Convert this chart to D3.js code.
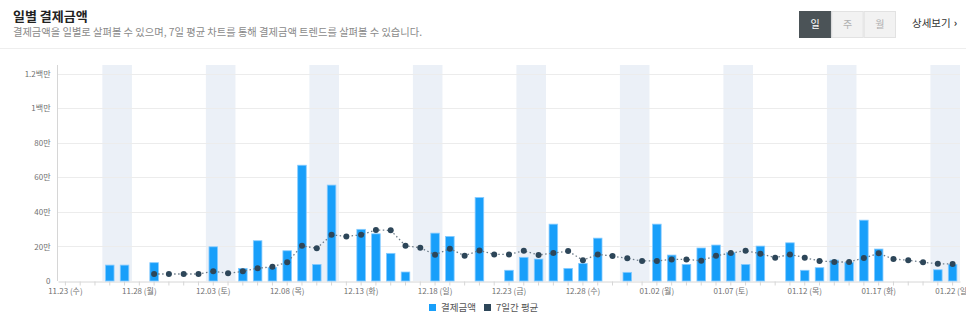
<!DOCTYPE html>
<html>
<head>
<meta charset="utf-8">
<script src="https://cdn.jsdelivr.net/npm/d3@7"></script>
<style>
  html, body { margin: 0; padding: 0; background: #fff; }
  svg { display: block; font-family: "Noto Sans CJK KR", "Noto Sans", sans-serif; }
</style>
</head>
<body>
<svg id="chart" width="966" height="332"></svg>
<script>
// Daily categories (date + weekday)
const categories = [
  "11.23 (수)","11.24 (목)","11.25 (금)","11.26 (토)","11.27 (일)","11.28 (월)","11.29 (화)",
  "11.30 (수)","12.01 (목)","12.02 (금)","12.03 (토)","12.04 (일)","12.05 (월)","12.06 (화)",
  "12.07 (수)","12.08 (목)","12.09 (금)","12.10 (토)","12.11 (일)","12.12 (월)","12.13 (화)",
  "12.14 (수)","12.15 (목)","12.16 (금)","12.17 (토)","12.18 (일)","12.19 (월)","12.20 (화)",
  "12.21 (수)","12.22 (목)","12.23 (금)","12.24 (토)","12.25 (일)","12.26 (월)","12.27 (화)",
  "12.28 (수)","12.29 (목)","12.30 (금)","12.31 (토)","01.01 (일)","01.02 (월)","01.03 (화)",
  "01.04 (수)","01.05 (목)","01.06 (금)","01.07 (토)","01.08 (일)","01.09 (월)","01.10 (화)",
  "01.11 (수)","01.12 (목)","01.13 (금)","01.14 (토)","01.15 (일)","01.16 (월)","01.17 (화)",
  "01.18 (수)","01.19 (목)","01.20 (금)","01.21 (토)","01.22 (일)"
];

// Daily payment amount (원)
const paymentAmounts = [
  0, 0, 0, 92000, 92000, 0, 106000,
  0, 0, 0, 198000, 0, 73000, 233000,
  79000, 175000, 670000, 96000, 555000, 0, 299000,
  273000, 160000, 52000, 0, 277000, 258000, 0,
  483000, 0, 62000, 137000, 127000, 329000, 73000,
  102000, 248000, 0, 50000, 0, 329000, 150000,
  96000, 191000, 208000, 164000, 96000, 202000, 0,
  221000, 62000, 77000, 121000, 108000, 352000, 185000,
  0, 0, 0, 65000, 96000
];

// 7-day average (원); no value before a full week is available
const weeklyAverage = [
  null, null, null, null, null, null, 40400,
  40400, 40400, 40400, 56000, 44500, 56000, 73400,
  82600, 108000, 204000, 189000, 267000, 258000, 267000,
  295000, 293000, 204000, 192000, 152000, 187000, 146000,
  177000, 154000, 154000, 175000, 150000, 162000, 173000,
  120000, 154000, 144000, 131000, 116000, 116000, 125000,
  125000, 117000, 146000, 162000, 175000, 158000, 135000,
  154000, 135000, 116000, 110000, 110000, 133000, 160000,
  127000, 120000, 108000, 100000, 98000
];

const yTickValues = [0, 200000, 400000, 600000, 800000, 1000000, 1200000];
const yTickLabels = ["0", "20만", "40만", "60만", "80만", "1백만", "1.2백만"];
const seriesNames = ["결제금액", "7일간 평균"];
const periodTabs = ["일", "주", "월"];
const titleText = "일별 결제금액";
const subtitleText = "결제금액을 일별로 살펴볼 수 있으며, 7일 평균 차트를 통해 결제금액 트렌드를 살펴볼 수 있습니다.";
const detailLinkText = "상세보기";

const BAR_COLOR = "#189ffa";
const BAR_EDGE = "#86cbff";
const AVG_LINE = "#6d7c8a";
const AVG_DOT = "#2d4659";
const BAND_COLOR = "#ebf0f7";

const svg = d3.select("#chart");

// ---------- header ----------
svg.append("text")
  .attr("x", 13).attr("y", 21)
  .attr("font-size", 13).attr("font-weight", 700).attr("fill", "#222")
  .text(titleText);

svg.append("text")
  .attr("x", 13).attr("y", 35.5)
  .attr("font-size", 10.25).attr("fill", "#8a8a8a")
  .text(subtitleText);

svg.append("line")
  .attr("x1", 0).attr("x2", 966).attr("y1", 48.5).attr("y2", 48.5)
  .attr("stroke", "#eeeeee");

// period toggle
const tabX = d3.scaleBand().domain(periodTabs).range([799, 896]);
const tabs = svg.append("g").selectAll("g").data(periodTabs).join("g");
tabs.append("rect")
  .attr("x", d => tabX(d) + 0.5).attr("y", 11.5)
  .attr("width", tabX.bandwidth() - 1).attr("height", 26)
  .attr("fill", (d, i) => i === 0 ? "#4b5357" : "#f2f2f2")
  .attr("stroke", (d, i) => i === 0 ? "#4b5357" : "#e2e2e2");
tabs.append("text")
  .attr("x", d => tabX(d) + tabX.bandwidth() / 2).attr("y", 28)
  .attr("text-anchor", "middle").attr("font-size", 10)
  .attr("fill", (d, i) => i === 0 ? "#ffffff" : "#b0b0b0")
  .text(d => d);

const detail = svg.append("text")
  .attr("x", 912).attr("y", 27)
  .attr("font-size", 10.5).attr("fill", "#333");
detail.append("tspan").text(detailLinkText);
detail.append("tspan").attr("dx", 3).attr("font-weight", 700).text("›");

// ---------- chart ----------
const plot = { left: 58, right: 960, top: 65, bottom: 281 };

const x = d3.scaleBand()
  .domain(categories)
  .range([plot.left, plot.right])
  .padding(0);

const y = d3.scaleLinear()
  .domain([0, 1250000])
  .range([plot.bottom, plot.top]);

// weekend shading (Sat + Sun)
const weekendStarts = categories.filter(c => c.includes("(토)"));
svg.append("g").selectAll("rect")
  .data(weekendStarts)
  .join("rect")
  .attr("x", d => x(d))
  .attr("y", plot.top)
  .attr("width", d => {
    const i = categories.indexOf(d);
    const end = i + 1 < categories.length ? x(categories[i + 1]) + x.bandwidth() : x(d) + x.bandwidth();
    return end - x(d);
  })
  .attr("height", plot.bottom - plot.top)
  .attr("fill", BAND_COLOR);

// horizontal grid
svg.append("g").selectAll("line")
  .data(yTickValues.slice(1))
  .join("line")
  .attr("x1", plot.left - 1).attr("x2", plot.right)
  .attr("y1", d => Math.round(y(d)) + 0.5).attr("y2", d => Math.round(y(d)) + 0.5)
  .attr("stroke", "#ececec");

// y axis
const yAxis = svg.append("g")
  .attr("transform", `translate(${plot.left - 0.5},0)`)
  .call(d3.axisLeft(y).tickValues(yTickValues)
    .tickFormat((d, i) => yTickLabels[i]).tickSize(0).tickPadding(7));
yAxis.select(".domain").attr("stroke", "#d6d6d6").attr("d", `M0,${plot.top}V${plot.bottom}`);
yAxis.selectAll("text")
  .attr("font-size", 8).attr("fill", "#707070")
  .attr("font-family", "\"Noto Sans CJK KR\", sans-serif");

// x axis: tick at every day, label every 5 days
const xAxis = svg.append("g")
  .attr("transform", `translate(0,${plot.bottom + 0.5})`)
  .call(d3.axisBottom(x).tickSizeInner(4).tickSizeOuter(0).tickPadding(3)
    .tickFormat((d, i) => i % 5 === 0 ? d : ""));
xAxis.select(".domain").attr("stroke", "#d6d6d6");
xAxis.selectAll(".tick line").attr("stroke", "#d6d6d6");
xAxis.selectAll("text")
  .attr("font-size", 8).attr("fill", "#707070")
  .attr("font-family", "\"Noto Sans CJK KR\", sans-serif");

// bars
const barW = x.bandwidth() * 0.58;
svg.append("g").selectAll("rect")
  .data(categories.map((c, i) => ({ c, v: paymentAmounts[i] })).filter(d => d.v > 0))
  .join("rect")
  .attr("x", d => x(d.c) + (x.bandwidth() - barW) / 2)
  .attr("y", d => y(d.v))
  .attr("width", barW)
  .attr("height", d => y(0) - y(d.v))
  .attr("fill", BAR_COLOR)
  .attr("stroke", BAR_EDGE)
  .attr("stroke-width", 0.8);

// 7-day average line
const avgPoints = categories.map((c, i) => ({ c, v: weeklyAverage[i] })).filter(d => d.v !== null);
const line = d3.line()
  .x(d => x(d.c) + x.bandwidth() / 2)
  .y(d => y(d.v));
svg.append("path")
  .datum(avgPoints)
  .attr("d", line)
  .attr("fill", "none")
  .attr("stroke", AVG_LINE)
  .attr("stroke-width", 1.3)
  .attr("stroke-dasharray", "1.5,2.5");
svg.append("g").selectAll("circle")
  .data(avgPoints)
  .join("circle")
  .attr("cx", d => x(d.c) + x.bandwidth() / 2)
  .attr("cy", d => y(d.v))
  .attr("r", 3)
  .attr("fill", AVG_DOT);

// legend
const legendColors = [BAR_COLOR, AVG_DOT];
const legend = svg.append("g");
const legendX = [429, 484];
seriesNames.forEach((name, i) => {
  legend.append("rect")
    .attr("x", legendX[i]).attr("y", 304)
    .attr("width", 7).attr("height", 7)
    .attr("fill", legendColors[i]);
  legend.append("text")
    .attr("x", legendX[i] + 12).attr("y", 311)
    .attr("font-size", 9.5).attr("fill", "#555")
    .text(name);
});
</script>
</body>
</html>
